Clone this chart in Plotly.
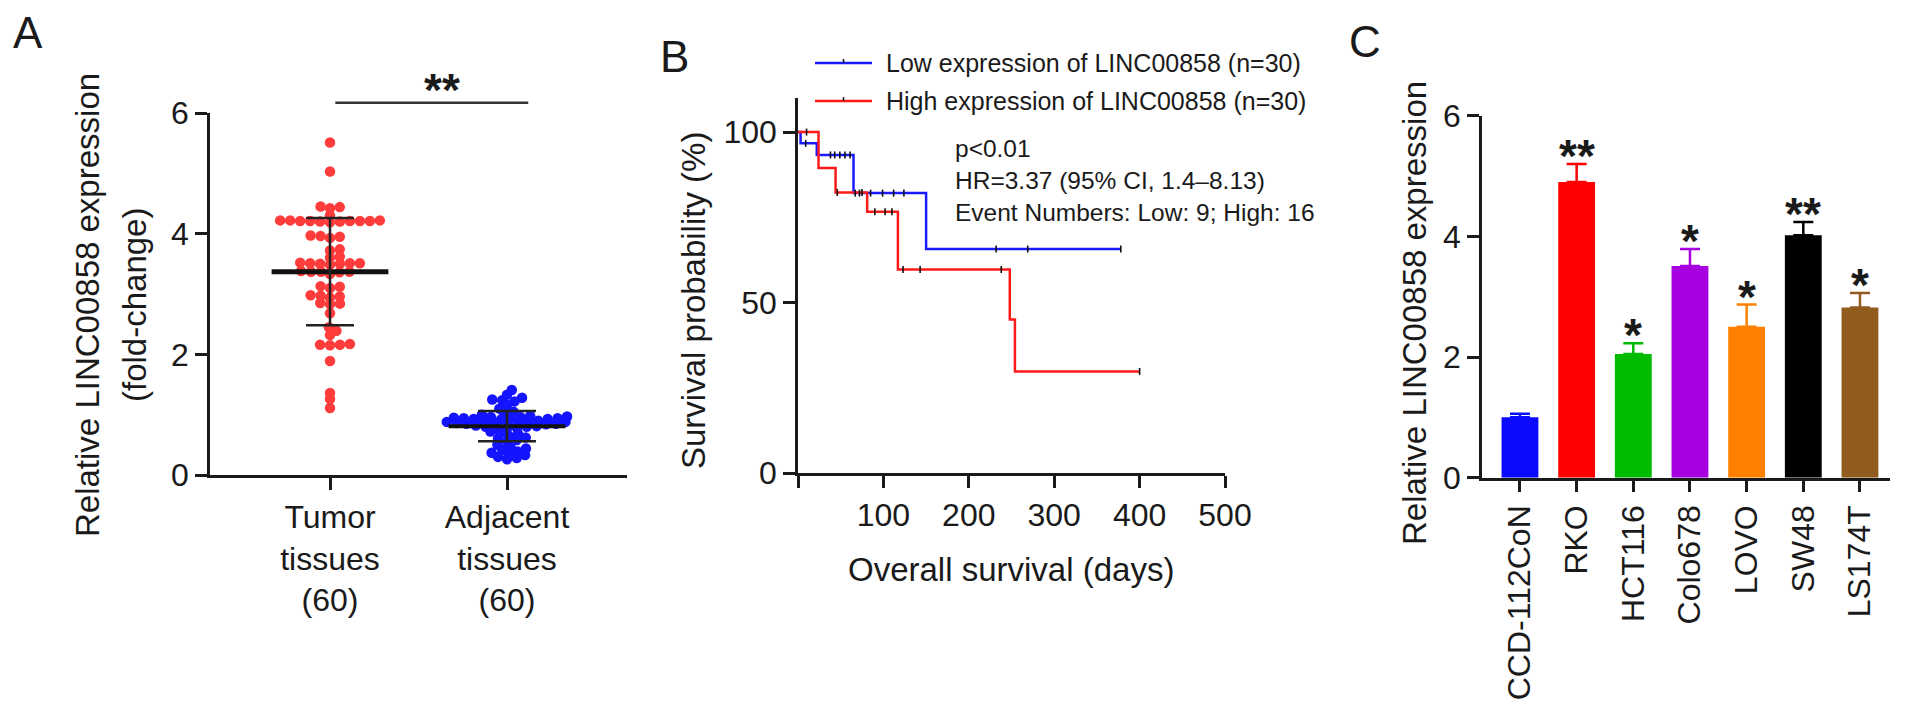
import math
import numpy as np
import plotly.graph_objects as go

W, H = 1913, 722
FONT = "Liberation Sans, Arial, Helvetica, sans-serif"
INK = "#1a1a1a"

# ---------------- Panel A data ----------------
groups_a = ["Tumor<br>tissues<br>(60)", "Adjacent<br>tissues<br>(60)"]
tumor_values = [5.51, 5.03, 4.44, 4.45, 4.42, 4.30,
                4.22, 4.21, 4.21, 4.20, 4.22, 4.21, 4.20, 4.21, 4.19, 4.22, 4.21,
                3.95, 3.97, 3.93, 3.96,
                3.72, 3.74, 3.60, 3.62,
                3.51, 3.50, 3.52, 3.51, 3.49, 3.51, 3.50,
                3.37, 3.36, 3.38, 3.37, 3.33, 3.37,
                3.12, 3.13, 3.10,
                2.96, 2.97, 2.94, 2.98,
                2.84, 2.83, 2.85,
                2.68,
                2.45, 2.39, 2.32,
                2.16, 2.15, 2.16, 2.17,
                1.89, 1.36, 1.26, 1.11]
adjacent_values = [1.41, 1.33, 1.28, 1.25, 1.24, 1.22, 1.16,
                   1.10, 1.05, 1.02,
                   1.00, 0.98, 0.97, 0.96, 0.96, 0.95, 0.95, 0.94, 0.94, 0.93, 0.93, 0.92,
                   0.90, 0.89, 0.89, 0.88, 0.88, 0.87, 0.87, 0.86, 0.86, 0.85, 0.85, 0.84,
                   0.82, 0.81, 0.80, 0.80, 0.79, 0.78, 0.77,
                   0.72, 0.70, 0.68, 0.65, 0.62, 0.60, 0.58, 0.56,
                   0.50, 0.47, 0.44, 0.42, 0.39, 0.37, 0.35, 0.33, 0.30, 0.28, 0.26]
group_means = [3.37, 0.81]
group_sds = [0.89, 0.25]
sig_a = "**"
sig_a_level = 6.17

# ---------------- Panel B data ----------------
low_name = "Low expression of LINC00858 (n=30)"
high_name = "High expression of LINC00858 (n=30)"
low_days = [0, 3, 22, 65, 150, 378]
low_surv = [100, 96.7, 93.3, 82.1, 65.7, 65.7]
low_censor_days = [9, 38, 43, 49, 55, 61, 67, 72, 85, 99, 112, 124, 232, 269, 378]
high_days = [0, 24, 44, 81, 117, 248, 254, 400]
high_surv = [100, 89.5, 82.3, 76.6, 59.7, 45.0, 29.8, 29.8]
high_censor_days = [10, 46, 75, 90, 102, 110, 123, 143, 238, 400]
stats_lines = ["p<0.01", "HR=3.37 (95% CI, 1.4\u20138.13)", "Event Numbers: Low: 9; High: 16"]
days_ticks = [0, 100, 200, 300, 400, 500]
surv_ticks = [0, 50, 100]

# ---------------- Panel C data ----------------
cell_lines = ["CCD-112CoN", "RKO", "HCT116", "Colo678", "LOVO", "SW48", "LS174T"]
expr_mean = [1.00, 4.90, 2.05, 3.51, 2.50, 4.02, 2.82]
expr_sd = [0.06, 0.30, 0.18, 0.28, 0.37, 0.22, 0.24]
sig_c = ["", "**", "*", "*", "*", "**", "*"]
bar_colors = ["#0a0aff", "#ff0000", "#00bb00", "#a600e0", "#ff8000", "#000000", "#915c1e"]

# ---------------- layout geometry (pixels) ----------------
A_X = (210, 627); A_Y = (113, 475); A_XR = [-0.678, 1.678]; A_YR = [0, 6]
B_X = (798, 1225); B_Y = (98, 473); B_XR = [0, 500]; B_YR = [0, 110]
C_X = (1482, 1890); C_Y = (115.7, 477.7); C_XR = [-0.67, 6.53]; C_YR = [0, 6]
STAR_FONT = dict(family=FONT, size=46, color=INK)


def xdom(p):
    return [p[0] / W, p[1] / W]


def ydom(p):
    return [1 - p[1] / H, 1 - p[0] / H]


def px(x):
    return x / W


def py(y):
    return 1 - y / H


def swarm_offsets(values, ppx, ppy, dx_min=10.0, dy_rad=5.5):
    vals = np.asarray(values, float)
    order = np.argsort(vals, kind="stable")
    placed = []
    off = np.zeros(len(vals))
    for i in order:
        y = vals[i] * ppy
        cands = [0.0]
        for (qx, qy) in placed:
            dy = abs(qy - y)
            if dy < dy_rad:
                dx = dx_min * math.sqrt(1 - (dy / dy_rad) ** 2)
                cands += [qx + dx, qx - dx]
        cands = sorted(set(round(c, 6) for c in cands), key=lambda c: (abs(c), -c))
        for c in cands:
            ok = True
            for (qx, qy) in placed:
                e = ((c - qx) / dx_min) ** 2 + ((y - qy) / dy_rad) ** 2
                if e < 1 - 1e-6:
                    ok = False
                    break
            if ok:
                off[i] = c
                break
        placed.append((off[i], y))
    return off / ppx


def step_at(days, surv, t):
    v = surv[0]
    for d, s in zip(days, surv):
        if d <= t:
            v = s
    return v


fig = go.Figure()

# ---------------- Panel A ----------------
ppx_a = (A_X[1] - A_X[0]) / (A_XR[1] - A_XR[0])
ppy_a = (A_Y[1] - A_Y[0]) / (A_YR[1] - A_YR[0])
for gi, (vals, col) in enumerate([(tumor_values, "#ff3c3c"), (adjacent_values, "#1414ff")]):
    offs = swarm_offsets(vals, ppx_a, ppy_a)
    fig.add_trace(go.Scatter(
        x=gi + offs, y=vals, mode="markers", xaxis="x", yaxis="y",
        marker=dict(size=10.5, color=col, line=dict(width=0)),
        showlegend=False, cliponaxis=False, hoverinfo="skip"))
cap_half = [24, 29]
for gi in range(2):
    m, s = group_means[gi], group_sds[gi]
    fig.add_trace(go.Scatter(
        x=[gi - 0.33, gi + 0.33], y=[m, m], mode="lines", xaxis="x", yaxis="y",
        line=dict(color="#111111", width=5 if gi == 0 else 4),
        showlegend=False, hoverinfo="skip"))
    fig.add_trace(go.Scatter(
        x=[gi], y=[m], mode="markers", xaxis="x", yaxis="y",
        marker=dict(size=1, color="rgba(0,0,0,0)"),
        error_y=dict(type="data", array=[s], symmetric=True, thickness=2.5,
                     width=cap_half[gi], color="#222222"),
        showlegend=False, hoverinfo="skip"))

# ---------------- Panel B ----------------
curve_colors = ["#1a1aff", "#ff1a1a"]
for name, days, surv, col in [(low_name, low_days, low_surv, curve_colors[0]),
                              (high_name, high_days, high_surv, curve_colors[1])]:
    fig.add_trace(go.Scatter(
        x=days, y=surv, mode="lines", name=name, xaxis="x2", yaxis="y2",
        line=dict(shape="hv", color=col, width=2.5), showlegend=False, hoverinfo="skip"))
for days, surv, cdays in [(low_days, low_surv, low_censor_days), (high_days, high_surv, high_censor_days)]:
    fig.add_trace(go.Scatter(
        x=cdays, y=[step_at(days, surv, t) for t in cdays], mode="markers", xaxis="x2", yaxis="y2",
        marker=dict(symbol="line-ns", size=5, line=dict(width=1.6, color="#111111")),
        showlegend=False, cliponaxis=False, hoverinfo="skip"))

# ---------------- Panel C ----------------
for i, (lab, m, s, col) in enumerate(zip(cell_lines, expr_mean, expr_sd, bar_colors)):
    fig.add_trace(go.Bar(
        x=[i], y=[m], width=0.65, xaxis="x3", yaxis="y3",
        marker=dict(color=col, line=dict(width=0)),
        error_y=dict(type="data", array=[s], arrayminus=[0], symmetric=False,
                     thickness=2.5, width=10, color=col),
        showlegend=False, hoverinfo="skip"))

axis_common = dict(showline=True, linecolor=INK, linewidth=2.5, ticks="outside",
                   ticklen=12, tickwidth=2.5, tickcolor=INK, showgrid=False,
                   zeroline=False, automargin=False,
                   tickfont=dict(family=FONT, size=32, color=INK))

annotations = []
# panel letters
for t, x, y in [("A", 11, 32), ("B", 658, 56), ("C", 1347, 41)]:
    annotations.append(dict(text=t, x=px(x), y=py(y), xanchor="left", yanchor="middle",
                            xref="paper", yref="paper", showarrow=False,
                            font=dict(family=FONT, size=44, color=INK)))

titles = [
    ("Relative LINC00858 expression", 87, 305, -90),
    ("(fold-change)", 134, 305, -90),
    ("Survival probability (%)", 693, 301, -90),
    ("Overall survival (days)", 1011, 569, 0),
    ("Relative LINC00858 expression", 1414, 313, -90),
]
for t, x, y, ang in titles:
    annotations.append(dict(text=t, x=px(x), y=py(y), xref="paper", yref="paper",
                            xanchor="center", yanchor="middle", textangle=ang, showarrow=False,
                            font=dict(family=FONT, size=33, color=INK)))

# significance in panel A (positioned from the data level via the axis domain)
a_dom = ydom(A_Y)


def a_paper(v):
    return a_dom[0] + (v - A_YR[0]) / (A_YR[1] - A_YR[0]) * (a_dom[1] - a_dom[0])


annotations.append(dict(text="<b>" + sig_a + "</b>", x=0.63, y=a_paper(6.55), xref="x", yref="paper",
                        showarrow=False, xanchor="center", yanchor="middle", yshift=-10,
                        font=STAR_FONT))
# stats text in panel B
annotations.append(dict(text="<br>".join(stats_lines), x=181.5, y=99.7, xref="x2", yref="y2",
                        xanchor="left", yanchor="top", align="left", showarrow=False,
                        font=dict(family=FONT, size=24.5, color=INK)))
# legend of panel B (drawn)
legend_rows = [(low_name, curve_colors[0], 63), (high_name, curve_colors[1], 101)]
shapes = []
for name, col, yy in legend_rows:
    shapes.append(dict(type="line", xref="paper", yref="paper", x0=px(815), x1=px(872),
                       y0=py(yy), y1=py(yy), line=dict(color=col, width=2.5)))
    shapes.append(dict(type="line", xref="paper", yref="paper", x0=px(843.5), x1=px(843.5),
                       y0=py(yy), y1=py(yy - 4), line=dict(color="#111111", width=1.5)))
    annotations.append(dict(text=name, x=px(884), y=py(yy), xref="paper", yref="paper",
                            xanchor="left", yanchor="middle", showarrow=False,
                            font=dict(family=FONT, size=25, color=INK)))
# significance stars in panel C
for i, (m, s, st) in enumerate(zip(expr_mean, expr_sd, sig_c)):
    if st:
        annotations.append(dict(text="<b>" + st + "</b>", x=i, y=m + s, xref="x3", yref="y3",
                                showarrow=False, xanchor="center", yanchor="bottom", yshift=-20,
                                font=STAR_FONT))

shapes.append(dict(type="line", xref="x", yref="paper", x0=0.03, x1=1.12,
                   y0=a_paper(sig_a_level), y1=a_paper(sig_a_level),
                   line=dict(color="#333333", width=2.5)))

fig.update_layout(
    template="none",
    width=W, height=H, autosize=False,
    margin=dict(l=0, r=0, t=0, b=0, pad=0),
    paper_bgcolor="white", plot_bgcolor="white",
    font=dict(family=FONT, color=INK, size=25),
    barmode="overlay",
    showlegend=False,
    xaxis=dict(domain=xdom(A_X), range=A_XR, tickvals=[0, 1], ticktext=groups_a, anchor="y", **axis_common),
    yaxis=dict(domain=ydom(A_Y), range=A_YR, tickvals=[0, 2, 4, 6], anchor="x", **axis_common),
    xaxis2=dict(domain=xdom(B_X), range=B_XR, tickvals=days_ticks,
                ticktext=["" if d == 0 else str(d) for d in days_ticks], anchor="y2", **axis_common),
    yaxis2=dict(domain=ydom(B_Y), range=B_YR, tickvals=surv_ticks, anchor="x2", **axis_common),
    xaxis3=dict(domain=xdom(C_X), range=C_XR, tickvals=list(range(len(cell_lines))),
                ticktext=cell_lines, tickangle=-90, anchor="y3", **axis_common),
    yaxis3=dict(domain=ydom(C_Y), range=C_YR, tickvals=[0, 2, 4, 6], anchor="x3", **axis_common),
    annotations=annotations,
    shapes=shapes,
)

fig.write_html("out.html", include_plotlyjs=True, config={"displayModeBar": False},
               post_script="document.body.style.margin='0';document.body.style.overflow='hidden';")
